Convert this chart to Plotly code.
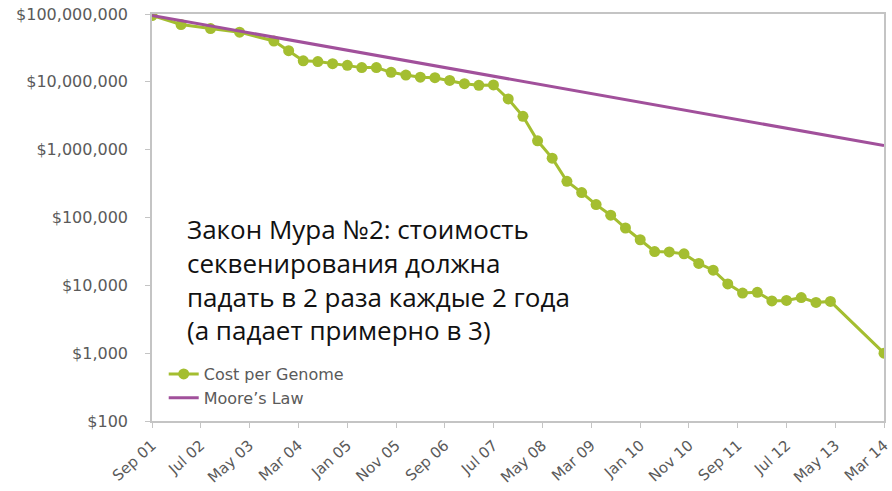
import plotly.graph_objects as go

cost_dates = ["2001-09-01", "2002-03-01", "2002-09-01", "2003-03-01", "2003-10-01",
              "2004-01-01", "2004-04-01", "2004-07-01", "2004-10-01", "2005-01-01",
              "2005-04-01", "2005-07-01", "2005-10-01", "2006-01-01", "2006-04-01",
              "2006-07-01", "2006-10-01", "2007-01-01", "2007-04-01", "2007-07-01",
              "2007-10-01", "2008-01-01", "2008-04-01", "2008-07-01", "2008-10-01",
              "2009-01-01", "2009-04-01", "2009-07-01", "2009-10-01", "2010-01-01",
              "2010-04-01", "2010-07-01", "2010-10-01", "2011-01-01", "2011-04-01",
              "2011-07-01", "2011-10-01", "2012-01-01", "2012-04-01", "2012-07-01",
              "2012-10-01", "2013-01-01", "2013-04-01", "2014-03-01"]
cost_values = [95000000, 70000000, 61000000, 54000000, 40000000,
               28800000, 20400000, 19900000, 18500000, 17500000,
               16200000, 16200000, 13800000, 12600000, 11700000,
               11500000, 10500000, 9400000, 8900000, 9000000,
               5600000, 3100000, 1350000, 750000, 342000,
               233000, 155000, 108000, 70000, 47000,
               31500, 31100, 29100, 21000, 16700,
               10500, 7700, 7900, 5900, 6000,
               6600, 5600, 5800, 1000]

moore_dates = ["2001-09-01", "2014-03-01"]
moore_values = [95000000, 1150000]

x_tick_dates = ["2001-09-01", "2002-07-01", "2003-05-01", "2004-03-01", "2005-01-01",
                "2005-11-01", "2006-09-01", "2007-07-01", "2008-05-01", "2009-03-01",
                "2010-01-01", "2010-11-01", "2011-09-01", "2012-07-01", "2013-05-01",
                "2014-03-01"]
x_tick_labels = ["Sep 01", "Jul 02", "May 03", "Mar 04", "Jan 05", "Nov 05", "Sep 06",
                 "Jul 07", "May 08", "Mar 09", "Jan 10", "Nov 10", "Sep 11", "Jul 12",
                 "May 13", "Mar 14"]
y_tick_values = [100, 1000, 10000, 100000, 1000000, 10000000, 100000000]
y_tick_labels = ["$100", "$1,000", "$10,000", "$100,000", "$1,000,000",
                 "$10,000,000", "$100,000,000"]

annotation_text = ("Закон Мура №2: стоимость<br>секвенирования должна<br>"
                   "падать в 2 раза каждые 2 года<br>(а падает примерно в 3)")

GREEN = "#a4be30"
PURPLE = "#a1509b"
GRAY_LINE = "#c4c4c4"
SANS = "DejaVu Sans, Verdana, sans-serif"
Y_TICK_FONT = dict(family=SANS, size=16, color="#5a5a5a")
X_TICK_FONT = dict(family=SANS, size=15, color="#5a5a5a")
LEG_FONT = dict(family=SANS, size=16, color="#5a5a5a")

fig = go.Figure()
fig.add_trace(go.Scatter(
    x=cost_dates, y=cost_values, name="Cost per Genome",
    mode="lines+markers",
    line=dict(color=GREEN, width=3),
    marker=dict(color=GREEN, size=11),
))
fig.add_trace(go.Scatter(
    x=moore_dates, y=moore_values, name="Moore’s Law",
    mode="lines",
    line=dict(color=PURPLE, width=3),
))

# plot area: 152..884 px wide, 14..421 px tall
def py(ypx):
    return (421 - ypx) / 407.0

fig.update_layout(
    width=892, height=491,
    margin=dict(l=152, r=8, t=14, b=70),
    paper_bgcolor="white", plot_bgcolor="white",
    showlegend=True,
    legend=dict(x=0.016, y=py(386), xanchor="left", yanchor="middle",
                bgcolor="rgba(0,0,0,0)", font=LEG_FONT, tracegroupgap=0),
    annotations=[dict(
        text=annotation_text, xref="paper", yref="paper",
        x=0.045, y=py(279), xanchor="left", yanchor="middle", align="left",
        showarrow=False,
        font=dict(family="Open Sans, Noto Sans, sans-serif", size=26, color="#111111"),
    )],
)

fig.update_xaxes(
    type="date", automargin=False,
    range=["2001-09-01", "2014-03-01"],
    tickvals=x_tick_dates, ticktext=x_tick_labels,
    tickangle=-42, tickfont=X_TICK_FONT, ticklabelstandoff=3,
    ticklabeloverflow="allow",
    showgrid=False, zeroline=False,
    showline=True, linecolor=GRAY_LINE, linewidth=1.5, mirror=True,
    ticks="outside", ticklen=5, tickcolor=GRAY_LINE,
)
fig.update_yaxes(
    type="log", range=[2, 8], automargin=False,
    tickvals=y_tick_values, ticktext=y_tick_labels,
    tickfont=Y_TICK_FONT, ticklabelstandoff=14,
    showgrid=False, zeroline=False,
    showline=True, linecolor=GRAY_LINE, linewidth=1.5, mirror=True,
    ticks="outside", ticklen=5, tickcolor=GRAY_LINE,
)

fig.write_html("out.html")
